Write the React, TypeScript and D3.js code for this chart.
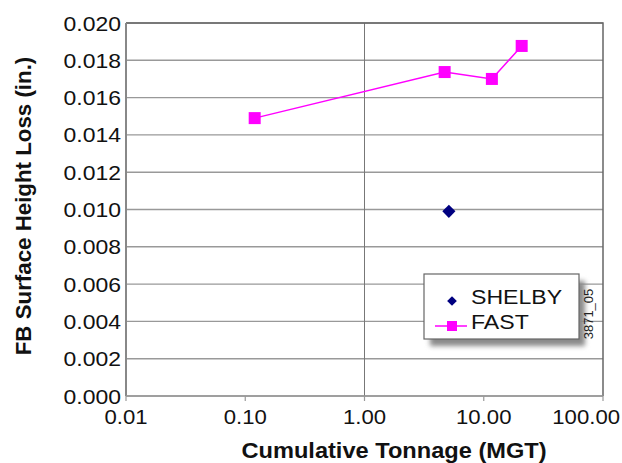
import { useEffect, useRef } from 'react'
import * as d3 from 'd3'

// data
const fastTonnage = [0.12, 4.7, 11.7, 20.8]
const fastLoss = [0.0149, 0.01737, 0.0170, 0.01877]
const shelbyTonnage = [5.1]
const shelbyLoss = [0.0099]
const xTicks = [0.01, 0.1, 1, 10, 100]
const yTicks = [0, 0.002, 0.004, 0.006, 0.008, 0.01, 0.012, 0.014, 0.016, 0.018, 0.02]

const font = 'Liberation Sans, Arial, sans-serif'

// text stretched a bit wider, like the scanned original
const addText = (g: any, x: number, y: number, str: string, size: number, anchor = 'start', bold = false, sx = 1.1) =>
  g.append('text')
    .attr('transform', `translate(${x},${y}) scale(${sx},1)`)
    .attr('text-anchor', anchor)
    .style('font-family', font).style('font-size', `${size}px`)
    .style('font-weight', bold ? 'bold' : 'normal').style('fill', '#111')
    .text(str)

const App = () => {
  const ref = useRef<SVGSVGElement>(null)

  useEffect(() => {
    document.body.style.margin = '0'
    document.body.style.overflow = 'hidden'

    const width = 622
    const height = 463
    const m = { left: 126, top: 23, right: 19, bottom: 67 }
    const svg = d3.select(ref.current)
    svg.selectAll('*').remove()
    svg.attr('width', width).attr('height', height)

    const x = d3.scaleLog().domain([0.01, 100]).range([m.left, width - m.right])
    const y = d3.scaleLinear().domain([0, 0.02]).range([height - m.bottom, m.top])

    // horizontal grid
    svg.append('g').selectAll('line').data(yTicks).enter().append('line')
      .attr('x1', m.left).attr('x2', width - m.right)
      .attr('y1', d => y(d)).attr('y2', d => y(d))
      .attr('stroke', '#999').attr('stroke-width', 1.4)
    // vertical line at 1.00
    svg.append('line')
      .attr('x1', x(1)).attr('x2', x(1))
      .attr('y1', m.top).attr('y2', height - m.bottom)
      .attr('stroke', '#777').attr('stroke-width', 1)
    // top + right border
    svg.append('path')
      .attr('d', `M${m.left},${m.top}H${width - m.right}V${height - m.bottom}`)
      .attr('fill', 'none').attr('stroke', '#666').attr('stroke-width', 1.5)
    // axis lines
    svg.append('line')
      .attr('x1', m.left).attr('x2', m.left).attr('y1', m.top).attr('y2', height - m.bottom)
      .attr('stroke', '#888').attr('stroke-width', 2)
    svg.append('line')
      .attr('x1', m.left).attr('x2', width - m.right)
      .attr('y1', height - m.bottom).attr('y2', height - m.bottom)
      .attr('stroke', '#999').attr('stroke-width', 1.5)

    // x ticks
    svg.append('g').selectAll('line').data(xTicks).enter().append('line')
      .attr('x1', d => x(d)).attr('x2', d => x(d))
      .attr('y1', height - m.bottom).attr('y2', height - m.bottom + 5)
      .attr('stroke', '#999').attr('stroke-width', 1.2)
    const xg = svg.append('g')
    xTicks.forEach(t => {
      const lab = d3.format('.2f')(t)
      const half = (lab.length - 0.5) * 0.556 * 20.5 * 1.08 / 2
      const px = Math.min(x(t), width - 2 - half)
      addText(xg, px, height - m.bottom + 28, lab, 20.5, 'middle', false, 1.08)
    })

    // y tick labels
    const yg = svg.append('g')
    yTicks.forEach(t => addText(yg, m.left - 5, y(t) + 7.5, d3.format('.3f')(t), 20.5, 'end', false, 1.12))

    // titles
    svg.append('text')
      .attr('transform', `translate(31,${206}) rotate(-90)`)
      .attr('text-anchor', 'middle')
      .style('font-family', font).style('font-size', '22.3px').style('font-weight', 'bold').style('fill', '#111')
      .text('FB Surface Height Loss (in.)')
    addText(svg, 394, 458, 'Cumulative Tonnage (MGT)', 22.5, 'middle', true, 1.05)

    // FAST series
    const fast = fastTonnage.map((t, i) => [t, fastLoss[i]] as [number, number])
    const line = d3.line<[number, number]>().x(d => x(d[0])).y(d => y(d[1]))
    svg.append('path').datum(fast).attr('d', line)
      .attr('fill', 'none').attr('stroke', '#ff00ff').attr('stroke-width', 1.5)
    svg.append('g').selectAll('rect').data(fast).enter().append('rect')
      .attr('x', d => x(d[0]) - 6).attr('y', d => y(d[1]) - 6)
      .attr('width', 12).attr('height', 12).attr('fill', '#ff00ff')

    // SHELBY series
    const diamond = d3.symbol().type(d3.symbolDiamond2).size(110)
    svg.append('g').selectAll('path').data(shelbyTonnage).enter().append('path')
      .attr('transform', (d, i) => `translate(${x(d)},${y(shelbyLoss[i])})`)
      .attr('d', diamond).attr('fill', '#000080')

    // legend
    const lx = 424, ly = 274, lw = 155, lh = 65
    svg.append('rect').attr('x', lx + 6).attr('y', ly + 7).attr('width', lw).attr('height', lh)
      .attr('fill', '#8a8a8a').style('filter', 'blur(2.5px)')
    svg.append('rect').attr('x', lx).attr('y', ly).attr('width', lw).attr('height', lh)
      .attr('fill', 'white').attr('stroke', '#666').attr('stroke-width', 1.2)
    svg.append('path')
      .attr('transform', `translate(${lx + 28},${ly + 27})`)
      .attr('d', d3.symbol().type(d3.symbolDiamond2).size(60)).attr('fill', '#000080')
    svg.append('line').attr('x1', lx + 11).attr('x2', lx + 43).attr('y1', ly + 52).attr('y2', ly + 52)
      .attr('stroke', '#ff00ff').attr('stroke-width', 1.5)
    svg.append('rect').attr('x', lx + 23).attr('y', ly + 47).attr('width', 10).attr('height', 10).attr('fill', '#ff00ff')
    const lg = svg.append('g')
    addText(lg, lx + 47, ly + 30, 'SHELBY', 21, 'start', false, 1.1)
    addText(lg, lx + 47, ly + 55, 'FAST', 21, 'start', false, 1.1)

    // figure id
    svg.append('text')
      .attr('transform', `translate(593,314) rotate(-90)`)
      .attr('text-anchor', 'middle')
      .style('font-family', font).style('font-size', '13px').style('fill', '#222')
      .text('3871_05')
  }, [])

  return (
    <div>
      <svg ref={ref} style={{ display: 'block' }}></svg>
    </div>
  )
}

export default App
